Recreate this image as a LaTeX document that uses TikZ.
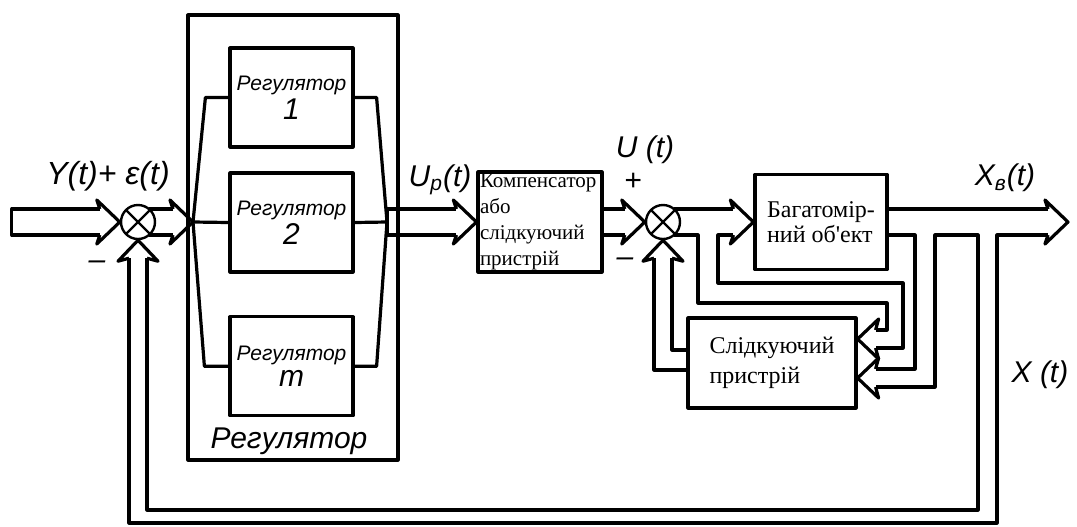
\documentclass[tikz,border=0pt]{standalone}
\usepackage{fontspec}
\setmainfont{Liberation Serif}
\newfontfamily\hand{Liberation Sans}
\usetikzlibrary{positioning,calc}
\tikzset{
  pics/whd/.style={code={\draw (-20,-13) -- (-23,-22) -- (0,0) -- (-23,22) -- (-20,13);}},
  pics/nhd/.style={code={\draw (-18,-9) -- (-21,-20) -- (0,0) -- (-21,20) -- (-18,9);}}
}

\begin{document}
\begin{tikzpicture}[x=0.5pt,y=-0.5pt,line width=1.6pt,line join=round]
        \tikzstyle{blk}=[draw,inner sep=0pt]
        \tikzstyle{reg}=[blk,minimum width=61.5pt,minimum height=49.5pt,align=center,font=\hand\itshape\fontsize{10.5}{12}\selectfont]
        \tikzstyle{txtbox}=[blk,align=left,font=\fontsize{12}{12.5}\selectfont]
        \tikzstyle{sum}=[draw,circle,line width=1.2pt,minimum size=17pt,inner sep=0pt,
          path picture={\draw[line width=1.2pt] (path picture bounding box.south west) -- (path picture bounding box.north east)
            (path picture bounding box.north west) -- (path picture bounding box.south east);}]
        \tikzstyle{lbl}=[inner sep=1pt,font=\hand\itshape\fontsize{15}{15}\selectfont]
        \useasboundingbox (0,0) rectangle (1077,526);
        % regulator block
        \node[blk,minimum width=105pt,minimum height=222.5pt] (rg) at (293,237.5) {};
        \node[reg] (r1) at (291.5,97.5) {Регулятор\\[1pt]{\fontsize{15}{15}\selectfont 1}};
        \node[reg,below=11.4pt of r1] (r2) {Регулятор\\[1pt]{\fontsize{15}{15}\selectfont 2}};
        \node[reg,below=20.8pt of r2] (rm) {Регулятор\\[1pt]{\fontsize{15}{15}\selectfont m}};
        \node[lbl] (rgl) at (289,441) {Регулятор};
        \coordinate (j1) at (193,222);
        \coordinate (j2) at (387,222);
        % other blocks
        \node[sum] (s1) at (138,222) {};
        \node[txtbox,minimum width=62pt,minimum height=50pt,text width=60pt,inner xsep=1pt,
          font=\fontsize{10.5}{13}\selectfont] (cmp) at (540,222) {Компенсатор\\або\\слідкуючий\\пристрій};
        \node[sum] (s2) at (663,222) {};
        \node[txtbox,minimum width=66pt,minimum height=47.5pt] (obj) at (821,222) {Багатомір-\\ний об\textquotesingle ект};
        \node[txtbox,minimum width=84pt,minimum height=45pt,font=\fontsize{12}{15}\selectfont] (trk) at (772,363) {Слідкуючий\\пристрій};
        \coordinate (xo) at (1068,222);
        \coordinate (tu) at ($(trk.east)+(0,-24)$);
        \coordinate (tl) at ($(trk.east)+(0,15)$);
        \coordinate (fa) at (978,510);
        \coordinate (fb) at (997,523);
        % input bus
        \draw ($(s1.west)+(-20,-13)$) -| ($(s1.west)+(-108,13)$) -- ($(s1.west)+(-20,13)$);
        \pic at (s1.west) {whd};
        \draw ($(s1)+(11,-13)$) -- ($(j1)+(-20,-13)$);
        \draw ($(s1)+(11,13)$) -- ($(j1)+(-20,13)$);
        \pic at (j1) {whd};
        % fan in and out
        \draw (j1) -- ($(r1.west)+(-23,0)$) -- (r1.west);
        \draw (j1) -- (r2.west);
        \draw (j1) -- ($(rm.west)+(-24,0)$) -- (rm.west);
        \draw (r1.east) -- ++(22,0) -- (j2);
        \draw (r2.east) -- (j2);
        \draw (rm.east) -- ++(22,0) -- (j2);
        % U_p bus
        \draw ($(j2)+(0,-13)$) -- ($(cmp.west)+(-20,-13)$);
        \draw ($(j2)+(0,13)$) -- ($(cmp.west)+(-20,13)$);
        \draw ($(j2)+(0,-13)$) -- ($(j2)+(0,13)$);
        \pic at (cmp.west) {whd};
        \draw ($(cmp.east)+(0,-13)$) -- ($(s2.west)+(-20,-13)$);
        \draw ($(cmp.east)+(0,13)$) -- ($(s2.west)+(-20,13)$);
        \pic at (s2.west) {whd};
        % U bus with branch to tracker
        \draw ($(s2)+(11,-13)$) -- ($(obj.west)+(-20,-13)$);
        \draw ($(s2)+(11,13)$) -- (698,235) |- (887,303) |- ($(tu)+(18,-9)$);
        \draw ($(obj.west)+(-20,13)$) -- (718,235) |- (903,283) |- ($(tu)+(18,9)$);
        \pic at (obj.west) {whd};
        \pic[rotate=180] at (tu) {nhd};
        % output bus and feedback
        \draw ($(obj.east)+(0,-13)$) -- ($(xo)+(-20,-13)$);
        \draw ($(obj.east)+(0,13)$) -- (915,235) |- ($(tl)+(18,-9)$);
        \draw ($(s1.south)+(9,18)$) |- (fa) -- (978,235) -- (935,235) |- ($(tl)+(18,9)$);
        \draw ($(s1.south)+(-9,18)$) |- (fb) -- (997,235) -- ($(xo)+(-20,13)$);
        \pic at (xo) {whd};
        \pic[rotate=180] at (tl) {nhd};
        \pic[rotate=90] at (s1.south) {nhd};
        % tracker to s2
        \draw ($(trk.west)+(0,7)$) -| ($(s2.south)+(-9,18)$);
        \draw ($(trk.west)+(0,-13)$) -| ($(s2.south)+(9,18)$);
        \pic[rotate=90] at (s2.south) {nhd};
        % labels
        \node[lbl,font=\hand\itshape\fontsize{16}{16}\selectfont] (ye) at (108,176) {Y(t)+ ε(t)};
        \node[lbl] (mn1) at (97,265) {–};
        \node[lbl] (up) at (440,180) {U\textsubscript{р}(t)};
        \node[lbl] (ut) at (645,150) {U (t)};
        \node[lbl] (pl2) at (633,182) {+};
        \node[lbl] (mn2) at (625,262) {–};
        \node[lbl] (xv) at (1005,178) {X\textsubscript{в}(t)};
        \node[lbl] (xt) at (1040,375) {X (t)};
      \end{tikzpicture}
\end{document}
